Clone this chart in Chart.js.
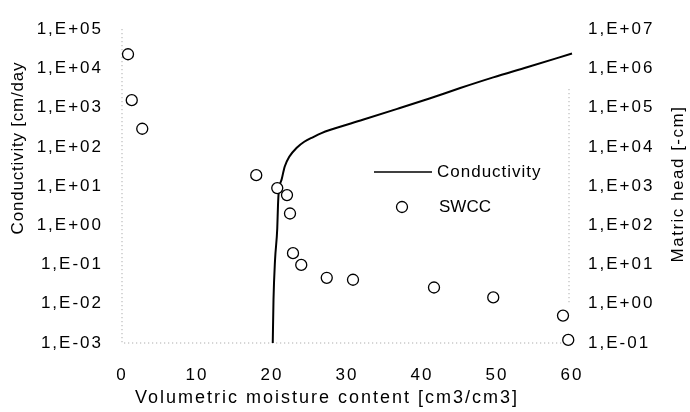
<!DOCTYPE html>
<html>
<head>
<meta charset="utf-8">
<script src="https://cdn.jsdelivr.net/npm/chart.js@4.4.0/dist/chart.umd.min.js"></script>
<style>
  html, body { margin: 0; padding: 0; background: #fff; }
  #wrap { width: 690px; height: 412px; }
</style>
</head>
<body>
<div id="wrap"><canvas id="chart" width="690" height="412"></canvas></div>
<script>
// Values

// Conductivity curve (left axis)
const moistureK = [20.1, 20.2, 20.4, 20.7, 20.8, 20.9, 21.3, 21.7, 22.3, 23.3, 24.3, 25.5, 26.6, 27.7, 32.1, 36.7, 41.1, 45.1, 49.5, 54.0, 60.0];
const conductivity = [0.001, 0.0126, 0.126, 0.83, 3.3, 7.1, 15.1, 31.6, 56, 95, 135, 178, 224, 269, 490, 930, 1740, 3160, 5900, 10700, 24000];

// SWCC points (right axis)
const moistureH = [0.8, 1.3, 2.7, 17.9, 20.7, 22.0, 22.4, 22.8, 23.9, 27.3, 30.8, 41.6, 49.5, 58.8, 59.5];
const matricHead = [2.3e6, 1.55e5, 2.9e4, 1900, 890, 590, 200, 19.5, 9.8, 4.6, 4.1, 2.6, 1.45, 0.5, 0.12];

// Axis ticks
const xTicks = [0, 10, 20, 30, 40, 50, 60];
const leftTickValues = [1e-3, 1e-2, 1e-1, 1e0, 1e1, 1e2, 1e3, 1e4, 1e5];
const leftTickLabels = ["1,E-03", "1,E-02", "1,E-01", "1,E+00", "1,E+01", "1,E+02", "1,E+03", "1,E+04", "1,E+05"];
const rightTickValues = [1e-1, 1e0, 1e1, 1e2, 1e3, 1e4, 1e5, 1e6, 1e7];
const rightTickLabels = ["1,E-01", "1,E+00", "1,E+01", "1,E+02", "1,E+03", "1,E+04", "1,E+05", "1,E+06", "1,E+07"];

const FONT = '"Liberation Sans", Arial, sans-serif';

function labelFor(values, labels, v) {
  const i = values.findIndex((t) => Math.abs(Math.log10(t) - Math.log10(v)) < 1e-6);
  return i >= 0 ? labels[i] : "";
}

// letter spacing to mimic the wide scanned type
const spacing = {
  id: "spacing",
  beforeUpdate: (c) => { c.ctx.letterSpacing = "2px"; },
  beforeDraw: (c) => { c.ctx.letterSpacing = "2px"; },
};

// faint dotted axis remnants
const frame = {
  id: "frame",
  beforeDatasetsDraw: (c) => {
    const { ctx, chartArea: a } = c;
    ctx.save();
    ctx.strokeStyle = "#9a9a9a";
    ctx.lineWidth = 1;
    ctx.setLineDash([1, 3]);
    ctx.beginPath();
    ctx.moveTo(a.left, a.top);
    ctx.lineTo(a.left, a.bottom);
    ctx.lineTo(a.right, a.bottom);
    ctx.moveTo(a.right - 3, a.top + 60);
    ctx.lineTo(a.right - 3, a.bottom - 40);
    ctx.stroke();
    ctx.restore();
  },
};

// axis titles and legend, placed as in the scan
const annotations = {
  id: "annotations",
  afterDraw: (c) => {
    const { ctx } = c;
    ctx.save();
    ctx.fillStyle = "#000";
    ctx.textAlign = "center";
    ctx.textBaseline = "middle";

    ctx.font = "17px " + FONT;
    ctx.letterSpacing = "0.8px";
    ctx.save();
    ctx.translate(18, 148);
    ctx.rotate(-Math.PI / 2);
    ctx.fillText("Conductivity [cm/day", 0, 0);
    ctx.restore();

    ctx.letterSpacing = "1.5px";
    ctx.save();
    ctx.translate(678, 184);
    ctx.rotate(-Math.PI / 2);
    ctx.fillText("Matric head [-cm]", 0, 0);
    ctx.restore();

    ctx.font = "18px " + FONT;
    ctx.letterSpacing = "2px";
    ctx.fillText("Volumetric moisture content [cm3/cm3]", 327, 398);

    // legend
    ctx.textAlign = "left";
    ctx.font = "17px " + FONT;
    ctx.letterSpacing = "1px";
    ctx.strokeStyle = "#000";
    ctx.lineWidth = 1.5;
    ctx.beginPath();
    ctx.moveTo(374, 172);
    ctx.lineTo(432, 172);
    ctx.stroke();
    ctx.fillText("Conductivity", 437, 172);

    ctx.lineWidth = 1.3;
    ctx.fillStyle = "#fff";
    ctx.beginPath();
    ctx.arc(402, 207, 5.5, 0, Math.PI * 2);
    ctx.fill();
    ctx.stroke();
    ctx.fillStyle = "#000";
    ctx.letterSpacing = "0px";
    ctx.fillText("SWCC", 439, 207);
    ctx.restore();
  },
};

const tickFont = { family: FONT, size: 17 };

new Chart(document.getElementById("chart"), {
  type: "scatter",
  data: {
    datasets: [
      {
        label: "SWCC",
        data: moistureH.map((x, i) => ({ x, y: matricHead[i] })),
        yAxisID: "yH",
        pointRadius: 5.5,
        pointHoverRadius: 5.5,
        borderColor: "#000",
        backgroundColor: "#fff",
        borderWidth: 1.3,
        clip: false,
        order: 0,
      },
      {
        label: "Conductivity",
        data: moistureK.map((x, i) => ({ x, y: conductivity[i] })),
        yAxisID: "yK",
        showLine: true,
        cubicInterpolationMode: "monotone",
        pointRadius: 0,
        borderColor: "#000",
        borderWidth: 2,
        clip: false,
        order: 1,
      },
    ],
  },
  options: {
    responsive: false,
    animation: false,
    layout: { padding: { top: 25, left: 0, right: 0, bottom: 0 } },
    plugins: { legend: { display: false }, tooltip: { enabled: false } },
    scales: {
      x: {
        type: "linear",
        min: 0,
        max: 60,
        afterBuildTicks: (s) => { s.ticks = xTicks.map((v) => ({ value: v })); },
        afterFit: (s) => { s.height = 69; },
        grid: { display: false, drawTicks: false },
        border: { display: false },
        ticks: { color: "#000", font: tickFont, padding: 22, maxRotation: 0 },
      },
      yK: {
        type: "logarithmic",
        position: "left",
        min: 1e-3,
        max: 1e5,
        afterBuildTicks: (s) => { s.ticks = leftTickValues.map((v) => ({ value: v })); },
        afterFit: (s) => { s.width = 122; },
        grid: { display: false, drawTicks: false },
        border: { display: false },
        ticks: {
          color: "#000",
          font: tickFont,
          padding: 19,
          callback: (v) => labelFor(leftTickValues, leftTickLabels, v),
        },
      },
      yH: {
        type: "logarithmic",
        position: "right",
        min: 1e-1,
        max: 1e7,
        afterBuildTicks: (s) => { s.ticks = rightTickValues.map((v) => ({ value: v })); },
        afterFit: (s) => { s.width = 118; },
        grid: { display: false, drawTicks: false },
        border: { display: false },
        ticks: {
          color: "#000",
          font: tickFont,
          padding: 16,
          callback: (v) => labelFor(rightTickValues, rightTickLabels, v),
        },
      },
    },
  },
  plugins: [spacing, frame, annotations],
});
</script>
</body>
</html>
